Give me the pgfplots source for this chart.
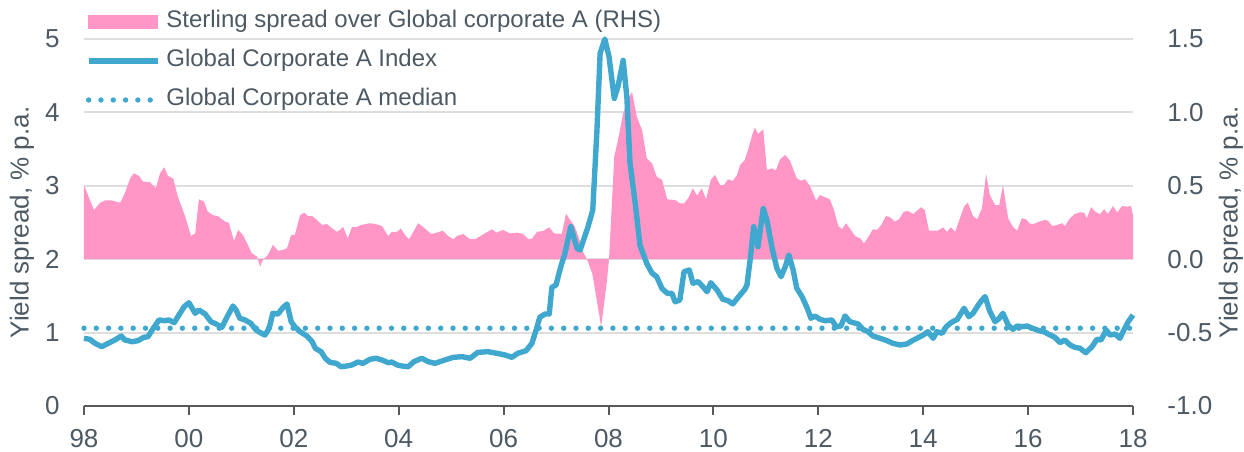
\documentclass[border=0pt]{standalone}
\usepackage{fontspec}
\setmainfont{Liberation Sans}
\usepackage{pgfplots}
\pgfplotsset{compat=1.18}
\definecolor{pinkfill}{RGB}{255,150,197}
\definecolor{bluel}{RGB}{64,168,206}
\definecolor{txt}{RGB}{77,89,99}
\definecolor{gridc}{RGB}{222,222,222}
\definecolor{axc}{RGB}{89,89,89}
\begin{document}
\begin{tikzpicture}[font=\fontsize{12}{14}\selectfont]
\pgfplotsset{
  base/.style={
    at={(0,0)}, anchor=south west, scale only axis,
    width=524.5pt, height=183.5pt,
    xmin=1998, xmax=2018,
    tick label style={font=\fontsize{13}{15}\selectfont, text=txt},
    /pgf/number format/assume math mode=true,
  }
}
% ---------------- right axis: grid, x axis, pink area ----------------
\begin{axis}[base,
  ymin=-1, ymax=1.5,
  axis y line*=right, axis x line*=bottom,
  ytick={-1,-0.5,0,0.5,1,1.5},
  yticklabels={-1.0,-0.5,0.0,0.5,1.0,1.5},
  ymajorgrids, grid style={gridc, line width=1pt},
  y axis line style={draw=none},
  major y tick style={draw=none},
  yticklabel style={xshift=9.2pt},
  xtick={1998,2000,2002,2004,2006,2008,2010,2012,2014,2016,2018},
  xticklabels={98,00,02,04,06,08,10,12,14,16,18},
  x axis line style={axc, line width=1pt, -},
  major x tick style={axc, line width=1pt},
  tick align=outside, major tick length=4.5pt,
  xticklabel style={yshift=-3.6pt},
  ylabel={Yield spread, \% p.a.},
  every axis y label/.style={at={(axis description cs:1.0934,0.5)}, anchor=center, rotate=90, font=\fontsize{13}{15}\selectfont, text=txt},
]
\addplot[draw=none, fill=pinkfill] coordinates {
(1998.00,0.505) (1998.19,0.335) (1998.31,0.385) (1998.40,0.40) (1998.53,0.40) (1998.69,0.385)
(1998.78,0.45) (1998.88,0.55) (1998.95,0.585) (1999.05,0.567) (1999.12,0.53) (1999.26,0.524)
(1999.37,0.483) (1999.45,0.585) (1999.53,0.626) (1999.60,0.567) (1999.70,0.55) (1999.79,0.426)
(1999.93,0.29) (2000.04,0.158) (2000.12,0.176) (2000.19,0.408) (2000.29,0.392) (2000.36,0.324)
(2000.46,0.30) (2000.55,0.294) (2000.69,0.256) (2000.76,0.249) (2000.86,0.126) (2000.94,0.199)
(2001.03,0.165) (2001.11,0.108) (2001.20,0.04) (2001.30,0.017) (2001.36,-0.05) (2001.41,-0.005)
(2001.51,0.03) (2001.60,0.097) (2001.70,0.058) (2001.79,0.063) (2001.87,0.074) (2001.95,0.165)
(2002.02,0.165) (2002.12,0.30) (2002.20,0.317) (2002.27,0.294) (2002.35,0.294) (2002.44,0.267)
(2002.54,0.233) (2002.63,0.24) (2002.73,0.21) (2002.82,0.187) (2002.88,0.199) (2002.94,0.221)
(2003.03,0.142) (2003.11,0.221) (2003.19,0.217) (2003.28,0.233) (2003.45,0.245) (2003.55,0.24)
(2003.68,0.226) (2003.80,0.158) (2003.87,0.187) (2003.97,0.187) (2004.04,0.21) (2004.12,0.165)
(2004.20,0.136) (2004.37,0.245) (2004.46,0.221) (2004.62,0.172) (2004.73,0.181) (2004.84,0.194)
(2004.94,0.158) (2005.04,0.136) (2005.11,0.158) (2005.23,0.172) (2005.36,0.136) (2005.46,0.136)
(2005.59,0.165) (2005.78,0.204) (2005.86,0.181) (2005.99,0.199) (2006.12,0.176) (2006.26,0.181)
(2006.37,0.172) (2006.47,0.136) (2006.54,0.14) (2006.64,0.187) (2006.75,0.192) (2006.87,0.217)
(2006.96,0.176) (2007.11,0.172) (2007.19,0.31) (2007.27,0.267) (2007.36,0.221) (2007.46,0.12)
(2007.51,0.051) (2007.59,0.0) (2007.69,-0.096) (2007.76,-0.244) (2007.86,-0.46) (2007.97,-0.15)
(2008.01,0.0) (2008.11,0.70) (2008.18,0.81) (2008.28,0.994) (2008.37,1.085) (2008.45,1.14)
(2008.54,0.97) (2008.64,0.88) (2008.73,0.687) (2008.83,0.653) (2008.92,0.562) (2009.02,0.54)
(2009.12,0.408) (2009.27,0.403) (2009.36,0.38) (2009.44,0.38) (2009.52,0.415) (2009.61,0.483)
(2009.69,0.433) (2009.78,0.483) (2009.86,0.408) (2009.95,0.54) (2010.03,0.574) (2010.13,0.505)
(2010.20,0.505) (2010.28,0.544) (2010.37,0.533) (2010.45,0.574) (2010.51,0.642) (2010.60,0.676)
(2010.66,0.744) (2010.74,0.846) (2010.79,0.898) (2010.85,0.853) (2010.95,0.885) (2011.02,0.608)
(2011.12,0.619) (2011.19,0.603) (2011.27,0.68) (2011.37,0.71) (2011.46,0.671) (2011.59,0.551)
(2011.67,0.535) (2011.75,0.544) (2011.84,0.499) (2011.96,0.399) (2012.03,0.437) (2012.13,0.422)
(2012.22,0.408) (2012.30,0.335) (2012.38,0.226) (2012.45,0.204) (2012.53,0.245) (2012.60,0.21)
(2012.70,0.158) (2012.80,0.142) (2012.87,0.108) (2012.95,0.149) (2013.04,0.204) (2013.12,0.199)
(2013.20,0.233) (2013.29,0.294) (2013.37,0.285) (2013.46,0.256) (2013.54,0.272) (2013.63,0.324)
(2013.71,0.328) (2013.81,0.308) (2013.88,0.33) (2013.96,0.354) (2014.03,0.335) (2014.11,0.194)
(2014.28,0.194) (2014.38,0.217) (2014.45,0.187) (2014.53,0.217) (2014.61,0.187) (2014.70,0.279)
(2014.78,0.358) (2014.85,0.385) (2014.95,0.294) (2015.03,0.272) (2015.12,0.347) (2015.20,0.58)
(2015.27,0.437) (2015.37,0.369) (2015.45,0.369) (2015.52,0.505) (2015.62,0.279) (2015.71,0.221)
(2015.79,0.194) (2015.88,0.279) (2015.96,0.272) (2016.04,0.24) (2016.11,0.24) (2016.21,0.256)
(2016.32,0.267) (2016.38,0.262) (2016.46,0.226) (2016.55,0.233) (2016.65,0.245) (2016.70,0.226)
(2016.80,0.279) (2016.89,0.308) (2016.99,0.319) (2017.07,0.317) (2017.12,0.279) (2017.20,0.354)
(2017.28,0.324) (2017.37,0.306) (2017.45,0.34) (2017.52,0.308) (2017.62,0.362) (2017.70,0.317)
(2017.79,0.362) (2017.89,0.358) (2017.96,0.362) (2018.00,0.30)
} \closedcycle;
\end{axis}
% ---------------- left axis: index line, median, legend ----------------
\begin{axis}[base,
  ymin=0, ymax=5,
  axis y line*=left, axis x line=none,
  ytick={0,1,2,3,4,5},
  y axis line style={draw=none},
  major y tick style={draw=none},
  yticklabel style={xshift=-8.7pt},
  clip=false,
  ylabel={Yield spread, \% p.a.},
  every axis y label/.style={at={(axis description cs:-0.0591,0.5)}, anchor=center, rotate=90, font=\fontsize{13}{15}\selectfont, text=txt},
  legend cell align=left,
  legend style={draw=none, fill=none, inner sep=0pt, outer sep=0pt,
    row sep=8pt, column sep=3pt,
    at={(axis description cs:0.0038,1)}, anchor=north west, xshift=-1pt, yshift=14.25pt,
    nodes={inner sep=0pt, text height=8.6pt, text depth=2.9pt, text=txt, font=\fontsize{12}{14}\selectfont}},
]
\addlegendimage{legend image code/.code={\fill[pinkfill] (0pt,-3.25pt) rectangle (34.5pt,3.25pt);}}
\addlegendentry{Sterling spread over Global corporate A (RHS)}
\addplot[bluel, line width=2.7pt, line join=round,
  legend image code/.code={\draw[bluel, line width=2.7pt] (0pt,0pt) -- (34.5pt,0pt);}] coordinates {
(1998.00,0.922) (1998.11,0.909) (1998.21,0.854) (1998.34,0.808) (1998.46,0.854) (1998.59,0.899)
(1998.71,0.954) (1998.78,0.899) (1998.92,0.876) (1999.03,0.89) (1999.14,0.936) (1999.22,0.944)
(1999.32,1.058) (1999.43,1.172) (1999.54,1.162) (1999.62,1.172) (1999.72,1.135) (1999.79,1.217)
(1999.91,1.353) (2000.00,1.407) (2000.12,1.263) (2000.19,1.308) (2000.31,1.253) (2000.42,1.149)
(2000.52,1.117) (2000.63,1.072) (2000.73,1.217) (2000.84,1.362) (2000.90,1.308) (2000.97,1.195)
(2001.07,1.172) (2001.18,1.127) (2001.28,1.035) (2001.36,1.00) (2001.45,0.967) (2001.53,1.058)
(2001.60,1.263) (2001.70,1.253) (2001.78,1.331) (2001.87,1.39) (2001.95,1.149) (2002.02,1.08)
(2002.12,1.012) (2002.25,0.954) (2002.35,0.876) (2002.41,0.786) (2002.52,0.74) (2002.60,0.65)
(2002.69,0.595) (2002.81,0.581) (2002.90,0.535) (2003.01,0.545) (2003.11,0.559) (2003.22,0.599)
(2003.32,0.581) (2003.45,0.636) (2003.57,0.65) (2003.68,0.627) (2003.80,0.59) (2003.87,0.599)
(2003.97,0.559) (2004.06,0.545) (2004.18,0.535) (2004.29,0.604) (2004.44,0.65) (2004.56,0.604)
(2004.69,0.581) (2004.88,0.627) (2005.04,0.663) (2005.21,0.672) (2005.36,0.65) (2005.51,0.731)
(2005.70,0.74) (2005.87,0.718) (2006.03,0.695) (2006.16,0.663) (2006.27,0.718) (2006.43,0.754)
(2006.54,0.854) (2006.62,1.035) (2006.69,1.208) (2006.79,1.253) (2006.87,1.253) (2006.92,1.617)
(2007.00,1.649) (2007.09,1.898) (2007.17,2.08) (2007.28,2.443) (2007.40,2.149) (2007.46,2.125)
(2007.61,2.443) (2007.70,2.67) (2007.78,3.76) (2007.84,4.805) (2007.93,5.0) (2008.01,4.76)
(2008.11,4.19) (2008.18,4.35) (2008.28,4.71) (2008.35,4.21) (2008.41,3.31) (2008.51,2.76)
(2008.60,2.19) (2008.73,1.94) (2008.83,1.81) (2008.92,1.76) (2009.02,1.60) (2009.12,1.535)
(2009.21,1.535) (2009.27,1.42) (2009.36,1.444) (2009.44,1.83) (2009.54,1.853) (2009.61,1.672)
(2009.71,1.694) (2009.80,1.625) (2009.88,1.557) (2009.95,1.68) (2010.07,1.58) (2010.18,1.453)
(2010.28,1.435) (2010.37,1.39) (2010.47,1.48) (2010.60,1.59) (2010.64,1.649) (2010.70,1.99)
(2010.77,2.443) (2010.85,2.17) (2010.95,2.69) (2011.02,2.534) (2011.12,2.149) (2011.21,1.876)
(2011.29,1.762) (2011.37,1.898) (2011.44,2.057) (2011.52,1.853) (2011.59,1.603) (2011.69,1.49)
(2011.79,1.331) (2011.86,1.195) (2011.94,1.226) (2012.03,1.181) (2012.13,1.162) (2012.26,1.172)
(2012.34,1.08) (2012.43,1.09) (2012.51,1.226) (2012.60,1.149) (2012.76,1.117) (2012.85,1.045)
(2012.95,1.012) (2013.04,0.954) (2013.18,0.922) (2013.31,0.89) (2013.42,0.854) (2013.56,0.831)
(2013.69,0.845) (2013.79,0.89) (2013.88,0.922) (2014.00,0.967) (2014.09,1.012) (2014.19,0.922)
(2014.26,1.012) (2014.36,0.99) (2014.44,1.08) (2014.53,1.135) (2014.65,1.181) (2014.70,1.24)
(2014.78,1.331) (2014.87,1.217) (2014.95,1.263) (2015.03,1.353) (2015.12,1.444) (2015.18,1.49)
(2015.27,1.29) (2015.37,1.149) (2015.45,1.195) (2015.52,1.263) (2015.62,1.104) (2015.71,1.045)
(2015.79,1.09) (2015.88,1.08) (2015.98,1.09) (2016.09,1.058) (2016.21,1.026) (2016.30,1.012)
(2016.42,0.967) (2016.51,0.936) (2016.61,0.863) (2016.70,0.899) (2016.80,0.831) (2016.89,0.80)
(2016.99,0.786) (2017.10,0.726) (2017.22,0.808) (2017.31,0.909) (2017.39,0.899) (2017.49,1.035)
(2017.56,0.967) (2017.66,0.981) (2017.75,0.922) (2017.81,1.012) (2017.91,1.149) (2018.00,1.24)
};
\addlegendentry{Global Corporate A Index}
\addplot[bluel, line width=2.7pt, line cap=round, dash pattern=on 0pt off 6.15pt,
  legend image code/.code={\draw[bluel, line width=2.7pt, line cap=round, dash pattern=on 0pt off 6.15pt] (0pt,0pt) -- (34.5pt,0pt);}]
  coordinates {(1998,1.06) (2018,1.06)};
\addlegendentry{Global Corporate A median}
\end{axis}
\pgfresetboundingbox
\path (-42pt,-22.5pt) rectangle (580pt,203pt);
\end{tikzpicture}
\end{document}
